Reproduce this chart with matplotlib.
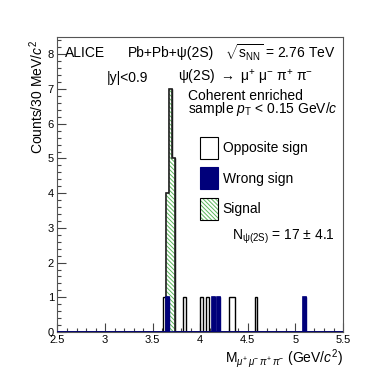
import numpy as np
import matplotlib
matplotlib.use("Agg")
import matplotlib.pyplot as plt
from matplotlib.patches import Patch
from matplotlib.legend_handler import HandlerTuple
from matplotlib.ticker import MultipleLocator

plt.rcParams['font.family'] = ['Liberation Sans', 'DejaVu Sans']
plt.rcParams['mathtext.fontset'] = 'custom'
plt.rcParams['mathtext.rm'] = 'Liberation Sans'
plt.rcParams['mathtext.it'] = 'Liberation Sans:italic'
plt.rcParams['hatch.linewidth'] = 0.7

# binning: 30 MeV bins from 2.5 to 5.5 GeV
bin_lo, bin_hi, bin_w = 2.5, 5.5, 0.03

# opposite-sign candidates (bin centres, counts)
opp_mass = [3.625, 3.655, 3.685, 3.715, 3.835, 4.015, 4.075, 4.315, 4.345, 4.585]
opp_counts = [1, 4, 7, 5, 1, 1, 1, 1, 1, 1]

# wrong-sign candidates
ws_mass = [3.655, 4.135, 4.195, 5.095]
ws_counts = [1, 1, 1, 1]

# signal (hatched)
sig_mass = [3.655, 3.685, 3.715]
sig_counts = [4, 7, 5]

legend_labels = ['Opposite sign', 'Wrong sign', 'Signal']

green = '#5cb85c'
navy = '#00007a'
hatch = '\\' * 8

edges = np.linspace(bin_lo, bin_hi, int(round((bin_hi - bin_lo) / bin_w)) + 1)


def to_hist(mass, counts):
    h, _ = np.histogram(mass, bins=edges, weights=counts)
    return h


h_opp = to_hist(opp_mass, opp_counts)
h_ws = to_hist(ws_mass, ws_counts)
h_sig = to_hist(sig_mass, sig_counts)

fig = plt.figure(figsize=(3.82, 3.70), dpi=100)
ax = fig.add_axes([0.1505, 0.1027, 0.898 - 0.1505, 0.9 - 0.1027])

# histograms
ax.stairs(h_opp, edges, color='black', lw=1.0, zorder=2)
ax.stairs(h_sig, edges, fill=True, facecolor='white', edgecolor=green,
          hatch=hatch, lw=0, zorder=3)
ax.stairs(h_sig, edges, color='#222222', lw=1.2, zorder=4)
ax.stairs(h_ws, edges, fill=True, facecolor=navy, edgecolor=navy, lw=1.0, zorder=5)
ax.stairs(h_ws, edges, color=navy, lw=1.2, zorder=6)

ax.set_xlim(bin_lo, bin_hi)
ax.set_ylim(0, 8.5)

ax.xaxis.set_major_locator(MultipleLocator(0.5))
ax.xaxis.set_minor_locator(MultipleLocator(0.1))
ax.yaxis.set_major_locator(MultipleLocator(1))
ax.yaxis.set_minor_locator(MultipleLocator(0.2))
ax.tick_params(which='both', direction='in', top=False, right=False,
               labelsize=8, color='#444444', width=0.8)
ax.tick_params(which='major', length=6.3, pad=2.5)
ax.tick_params(which='minor', length=3.2)
ax.xaxis.set_major_formatter(plt.FuncFormatter(lambda v, p: f'{v:g}'))
for s in ax.spines.values():
    s.set_color('#555555')
    s.set_linewidth(0.8)

ax.set_xlabel(r'M$_{\mu^{+}\,\mu^{-}\,\pi^{+}\,\pi^{-}}$ (GeV/$c^{2}$)',
              fontsize=10, loc='right', labelpad=1)
ax.set_ylabel(r'Counts/30 MeV/$c^{2}$', fontsize=10)
ax.yaxis.set_label_coords(-0.105, 0.99, transform=ax.transAxes)
ax.yaxis.label.set_va('top')
ax.yaxis.label.set_ha('right')

# annotations
tkw = dict(transform=ax.transAxes, fontsize=10, va='center', ha='left')
ax.text(0.026, 0.946, 'ALICE', **tkw)
ax.text(0.247, 0.946, 'Pb+Pb+ψ(2S)', **tkw)
ax.text(0.587, 0.946, r'$\sqrt{\mathrm{s}_{\mathrm{NN}}}$ = 2.76 TeV', **tkw)
ax.text(0.173, 0.862, '|y|<0.9', **tkw)
ax.text(0.422, 0.862, r'ψ(2S) $\rightarrow$ μ$^{+}$ μ$^{-}$ π$^{+}$ π$^{-}$', **tkw)
ax.text(0.457, 0.801, 'Coherent enriched', **tkw)
ax.text(0.457, 0.755, r'sample $p_{\mathrm{T}}$ < 0.15 GeV/$c$', **tkw)
ax.text(0.611, 0.322, r'N$_{\mathrm{ψ(2S)}}$ = 17 ± 4.1', **tkw)

# legend
h1 = Patch(facecolor='white', edgecolor='black', lw=0.8)
h2 = Patch(facecolor=navy, edgecolor=navy, lw=0.8)
h3 = (Patch(facecolor='white', edgecolor=green, hatch=hatch, lw=0),
      Patch(facecolor='none', edgecolor='black', lw=0.8))
ax.legend([h1, h2, h3], legend_labels, loc='upper left',
          bbox_to_anchor=(0.50, 0.662), frameon=False, fontsize=10,
          handlelength=1.27, handleheight=2.05, labelspacing=0.63,
          handletextpad=0.35, borderpad=0, borderaxespad=0,
          handler_map={tuple: HandlerTuple(ndivide=1, pad=0)})

fig.savefig('out.png', dpi=100)
